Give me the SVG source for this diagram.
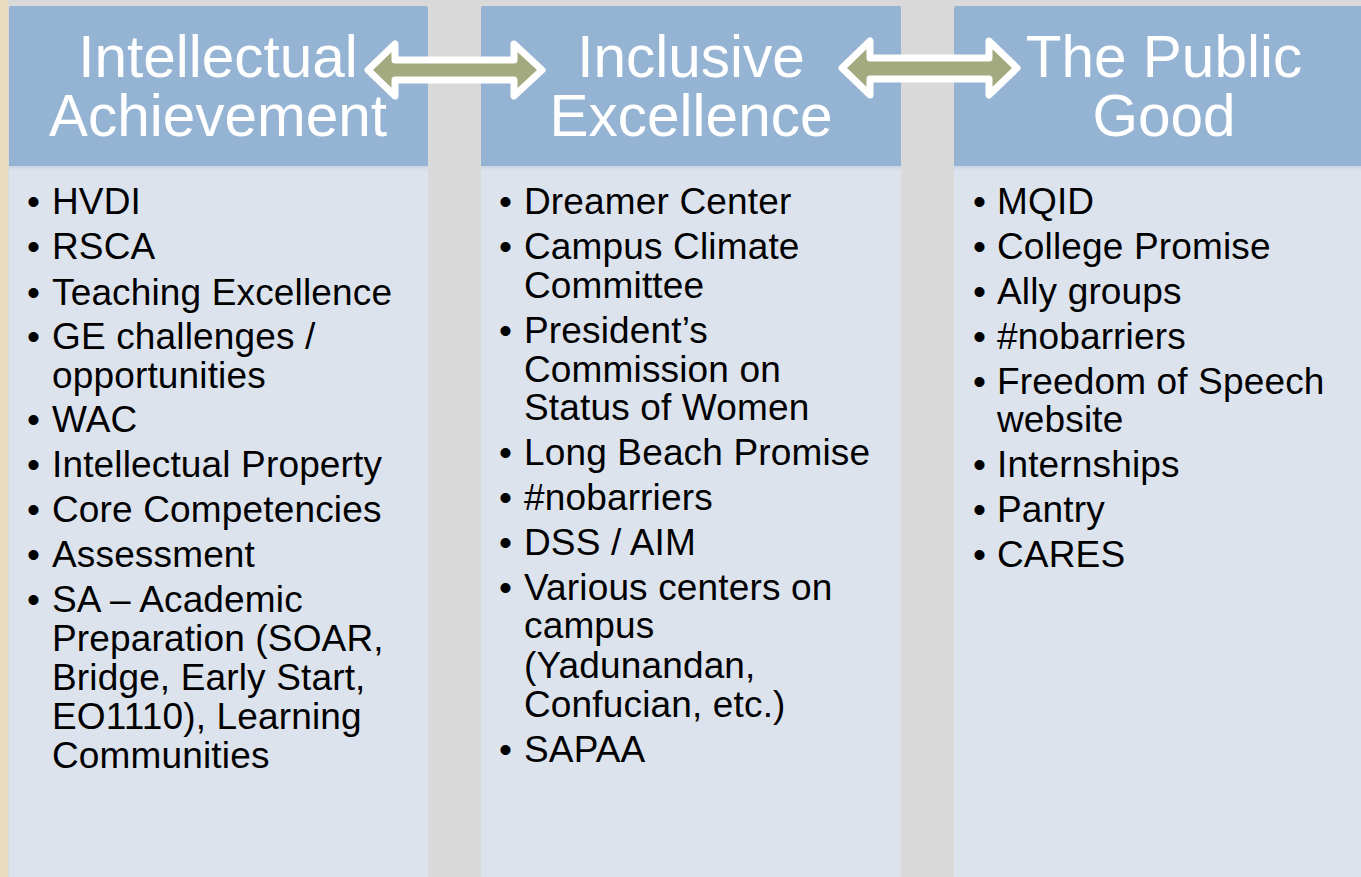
<svg xmlns="http://www.w3.org/2000/svg" width="1361" height="877" viewBox="0 0 1361 877">
<style>
.hd{fill:#95b3d2}
.bd{fill:#dce3ed}
.ht{font-family:"Liberation Sans",Arial,sans-serif;font-size:58.5px;fill:#ffffff;text-anchor:middle}
.bt{font-family:"Liberation Sans",Arial,sans-serif;font-size:37px;letter-spacing:0.15px;fill:#000000}
.ar{fill:#a3aa7f;stroke:#ffffff;stroke-width:7;stroke-linejoin:round}
</style>
<defs>
<linearGradient id="sh" x1="0" y1="0" x2="0" y2="1">
<stop offset="0" stop-color="#c9d5e4"/>
<stop offset="1" stop-color="#dce3ed"/>
</linearGradient>
</defs>
<rect x="0" y="0" width="1361" height="877" fill="#d9d9d9"/>
<rect x="0" y="0" width="8" height="877" fill="#ecdcbf"/>

<g id="col1">
<rect class="hd" x="9" y="6" width="419" height="162" rx="2"/>
<rect class="bd" x="9" y="166" width="419" height="711"/>
<rect x="9" y="166" width="419" height="5" fill="url(#sh)"/>
<text class="ht" x="218" y="77">Intellectual</text>
<text class="ht" x="218" y="136">Achievement</text>
<g class="bt">
<text x="27" y="214">•</text><text x="52" y="214">HVDI</text>
<text x="27" y="259">•</text><text x="52" y="259">RSCA</text>
<text x="27" y="305">•</text><text x="52" y="305">Teaching Excellence</text>
<text x="27" y="349">•</text><text x="52" y="349">GE challenges /</text>
<text x="52" y="388">opportunities</text>
<text x="27" y="432">•</text><text x="52" y="432">WAC</text>
<text x="27" y="477">•</text><text x="52" y="477">Intellectual Property</text>
<text x="27" y="522">•</text><text x="52" y="522">Core Competencies</text>
<text x="27" y="567">•</text><text x="52" y="567">Assessment</text>
<text x="27" y="612">•</text><text x="52" y="612">SA – Academic</text>
<text x="52" y="651">Preparation (SOAR,</text>
<text x="52" y="690">Bridge, Early Start,</text>
<text x="52" y="729">EO1110), Learning</text>
<text x="52" y="768">Communities</text>
</g>
</g>

<g id="col2">
<rect class="hd" x="481" y="6" width="420" height="162" rx="2"/>
<rect class="bd" x="481" y="166" width="420" height="711"/>
<rect x="481" y="166" width="420" height="5" fill="url(#sh)"/>
<text class="ht" x="691" y="77">Inclusive</text>
<text class="ht" x="691" y="136">Excellence</text>
<g class="bt">
<text x="499" y="214">•</text><text x="524" y="214">Dreamer Center</text>
<text x="499" y="259">•</text><text x="524" y="259">Campus Climate</text>
<text x="524" y="298">Committee</text>
<text x="499" y="343">•</text><text x="524" y="343">President’s</text>
<text x="524" y="382">Commission on</text>
<text x="524" y="420">Status of Women</text>
<text x="499" y="465">•</text><text x="524" y="465">Long Beach Promise</text>
<text x="499" y="510">•</text><text x="524" y="510">#nobarriers</text>
<text x="499" y="555">•</text><text x="524" y="555">DSS / AIM</text>
<text x="499" y="600">•</text><text x="524" y="600">Various centers on</text>
<text x="524" y="638">campus</text>
<text x="524" y="678">(Yadunandan,</text>
<text x="524" y="717">Confucian, etc.)</text>
<text x="499" y="762">•</text><text x="524" y="762">SAPAA</text>
</g>
</g>

<g id="col3">
<rect class="hd" x="954" y="6" width="420" height="162" rx="2"/>
<rect class="bd" x="954" y="166" width="420" height="711"/>
<rect x="954" y="166" width="420" height="5" fill="url(#sh)"/>
<text class="ht" x="1164" y="77">The Public</text>
<text class="ht" x="1164" y="136">Good</text>
<g class="bt">
<text x="973" y="214">•</text><text x="997" y="214">MQID</text>
<text x="973" y="259">•</text><text x="997" y="259">College Promise</text>
<text x="973" y="304">•</text><text x="997" y="304">Ally groups</text>
<text x="973" y="349">•</text><text x="997" y="349">#nobarriers</text>
<text x="973" y="394">•</text><text x="997" y="394">Freedom of Speech</text>
<text x="997" y="432">website</text>
<text x="973" y="477">•</text><text x="997" y="477">Internships</text>
<text x="973" y="522">•</text><text x="997" y="522">Pantry</text>
<text x="973" y="567">•</text><text x="997" y="567">CARES</text>
</g>
</g>

<g id="connectors">
<path class="ar" d="M368,70 L395,44 L395,60 L514,60 L514,44 L542,70 L514,96 L514,80 L395,80 L395,96 Z"/>
<path class="ar" d="M842,68 L870,41 L870,58 L989,58 L989,41 L1017,68 L989,95 L989,79 L870,79 L870,95 Z"/>
</g>
</svg>
